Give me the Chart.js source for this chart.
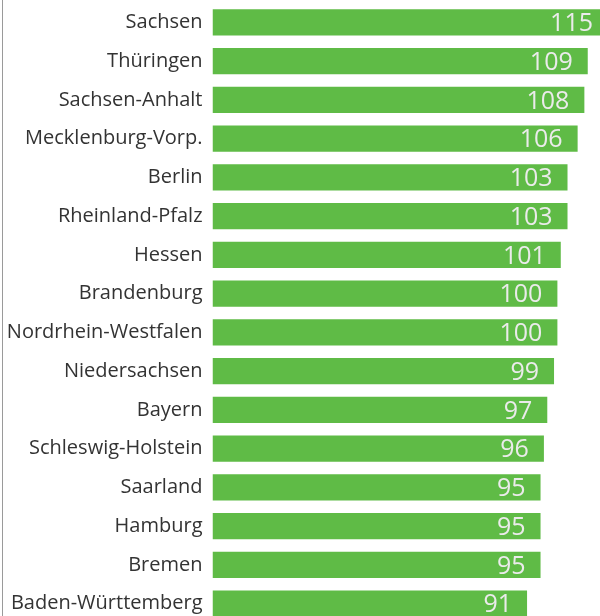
<!DOCTYPE html>
<html>
<head>
<meta charset="utf-8">
<script src="https://cdn.jsdelivr.net/npm/chart.js@4"></script>
<style>
  html, body { margin: 0; padding: 0; overflow: hidden; background: #fff; }
  #frame { position: absolute; left: 2px; top: 0; width: 0; height: 616px; border-left: 1px solid #9a9a9a; }
  #box { position: absolute; left: 0; top: 0; width: 640px; height: 623px; }
</style>
</head>
<body>
<div id="box"><canvas id="chart"></canvas></div>
<div id="frame"></div>
<script>
const states = ["Sachsen", "Thüringen", "Sachsen-Anhalt", "Mecklenburg-Vorp.", "Berlin",
  "Rheinland-Pfalz", "Hessen", "Brandenburg", "Nordrhein-Westfalen", "Niedersachsen",
  "Bayern", "Schleswig-Holstein", "Saarland", "Hamburg", "Bremen", "Baden-Württemberg"];
const index = [115, 109, 108, 106, 103, 103, 101, 100, 100, 99, 97, 96, 95, 95, 95, 91];

const AXIS_MIN = -2.3;
const AXIS_MAX = 124.5;

// draws the numbers inside the end of each bar
const valueLabels = {
  id: "valueLabels",
  afterDatasetsDraw(chart) {
    const ctx = chart.ctx;
    const meta = chart.getDatasetMeta(0);
    ctx.save();
    ctx.font = "25px 'Liberation Sans Narrow', 'Open Sans', sans-serif";
    ctx.fillStyle = "#ebebeb";
    ctx.textAlign = "right";
    ctx.textBaseline = "middle";
    meta.data.forEach((bar, i) => {
      ctx.fillText(String(index[i]), bar.x - 15, bar.y + 1.5);
    });
    ctx.restore();
  }
};

new Chart(document.getElementById("chart").getContext("2d"), {
  type: "bar",
  data: {
    labels: states,
    datasets: [{
      data: index,
      base: AXIS_MIN,
      backgroundColor: "#5fbb46",
      borderWidth: 0,
      barPercentage: 0.682,
      categoryPercentage: 1
    }]
  },
  options: {
    indexAxis: "y",
    responsive: true,
    maintainAspectRatio: false,
    animation: false,
    layout: { padding: { top: 3, right: 0, bottom: 0, left: 0 } },
    scales: {
      x: { display: false, min: AXIS_MIN, max: AXIS_MAX },
      y: {
        grid: { display: false, drawTicks: false },
        border: { display: false },
        ticks: {
          padding: 10,
          color: "#333",
          font: { family: "'Open Sans', sans-serif", size: 20 }
        },
        afterFit(scale) {
          scale.width = 212.5;
          scale.paddingTop = 0;
          scale.paddingBottom = 0;
        }
      }
    },
    plugins: {
      legend: { display: false },
      tooltip: { enabled: false }
    }
  },
  plugins: [valueLabels]
});
</script>
</body>
</html>
